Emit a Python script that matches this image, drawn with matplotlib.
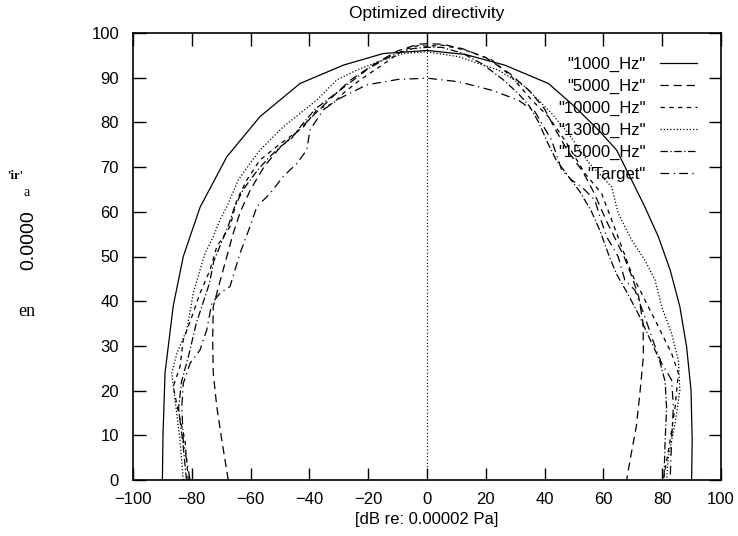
import matplotlib
matplotlib.use("Agg")
import matplotlib.pyplot as plt

plt.rcParams['font.family'] = ['Liberation Sans', 'DejaVu Sans']

# ---- data (x = left/right level, y = forward level) ----
x_1000 = [-90, -89.8, -89.1, -86.3, -82.9, -77.2, -68.1, -56.8, -43.2, -28.5, -14.9, 0,
          13, 26.5, 41.3, 50.3, 58.3, 64.5, 69.6, 74.1, 78.7, 82.7, 86, 88.3, 89.8, 90.2, 90]
y_1000 = [0, 10, 24, 39, 50, 61, 72.3, 81.3, 88.7, 92.8, 95.4, 96.1,
          95.2, 92.8, 88.7, 83.5, 78.3, 73.8, 67.1, 61.1, 54.4, 47, 38.8, 29.8, 20.1, 8.9, 0]

x_5000 = [-67.6, -69.8, -71.5, -72.7, -72.9, -72.7, -71, -68.5, -66, -63.5, -60, -55.5, -50.5,
          -44, -38, -32.5, -26, -18, -10, -3, 0,
          5, 12, 20, 28, 35, 40, 44, 48, 53, 57, 61, 64, 67, 70, 72, 73.5, 73.6, 72.5, 71.2, 69.5, 67.9]
y_5000 = [0, 8.9, 16.4, 23.9, 31.3, 38.8, 43, 49, 55, 60, 65, 70, 74,
          78, 82, 85.5, 89.5, 93, 96, 97.5, 97.6,
          97.5, 96.5, 94.5, 91, 87, 83, 78, 73.5, 69, 64, 58, 54, 50, 45, 41, 35, 27.6, 20, 12, 6, 0]

x_10000 = [-81.2, -82.3, -84.5, -86.3, -84, -82.9, -80, -77.2, -73.8, -71.5, -67, -64.7, -61.3,
           -56.8, -51.1, -46.6, -42, -37.5, -31.9, -28.5, -22.8, -16, -8, -2.4, 0,
           5, 12.9, 22, 28.8, 35.6, 41.3, 46.9, 53.7, 59.4, 62.8, 66.2, 69.6, 74.1, 78.7, 83.2,
           85.5, 84.4, 82.7, 80.4]
y_10000 = [0, 8.9, 15, 20.9, 25.4, 31.3, 36.5, 41.8, 47, 52.2, 56.7, 62.6, 67.1,
           71.6, 74.6, 76.8, 79, 82.8, 84.3, 86.5, 89.5, 92.5, 96.2, 97.3, 97,
           97.3, 96.2, 94, 90.2, 85, 81.3, 76, 68.6, 64.1, 58.2, 52.2, 46.2, 40.3, 34.3, 28.3,
           23.9, 16.4, 8.9, 0]

x_13000 = [-82.9, -84, -85.7, -86.8, -85.1, -81.7, -79.5, -77.2, -75.5, -72.7, -70.4, -68.1,
           -64.2, -60.2, -56.8, -52.3, -48.9, -43.2, -37.5, -30.7, -23.9, -14.9, -8, 0,
           10.7, 24.3, 33.3, 42.4, 48, 55, 62.8, 65, 69.6, 74.1, 77.6, 79.8, 83.2, 85.5, 86,
           84.4, 82.1, 81.5]
y_13000 = [0, 8.9, 17.9, 23.9, 28.3, 33.6, 41.8, 47, 50.7, 54.4, 58.2, 61.1,
           67.1, 70.8, 73.8, 76.8, 79, 82, 85, 89.5, 91.7, 94, 95.4, 95.8,
           94.7, 91.7, 88, 82, 77.6, 71, 65.6, 59.7, 53.7, 49.2, 44.7, 38.8, 32.8, 26.8, 20.1,
           12.7, 5.2, 0]

x_15000 = [-81.8, -83, -84.5, -83.5, -81, -78.5, -76, -74, -72.5, -70, -67.5, -65.5, -62.5,
           -58, -54, -50, -46, -42.5, -38, -33, -27, -20, -12, -5, 0,
           5, 12, 19, 26, 31, 35, 38, 41, 44, 48, 52, 56, 59, 62, 64.5, 68, 72, 75.5, 79, 81,
           81.5, 81, 80.6]
y_15000 = [0, 8, 16, 22, 28, 35, 40, 44, 49, 53, 57, 61, 65,
           69, 72, 74.5, 76.5, 79.5, 83, 85.5, 88.5, 92, 95, 96.5, 96.8,
           96.8, 95.5, 93, 89.5, 86.5, 83.5, 80, 75.5, 71.5, 68, 64.5, 60, 55.5, 50, 46, 42, 37,
           32, 27, 22, 16, 9, 0]

x_target = [-80.6, -82.9, -83.4, -82.9, -80.6, -77.2, -74.9, -73.2, -70.4, -67, -63.6, -60.2,
            -57.9, -53.4, -48.9, -44.3, -40.9, -39.8, -35.3, -29.6, -20.5, -10, 0,
            10.7, 22, 31, 36.7, 42.4, 45.8, 49.2, 52.6, 57.1, 58.8, 61.1, 65, 67.3, 70.7, 74.1,
            77.6, 79.8, 83.2, 83.8, 83.2, 82.7]
y_target = [0, 8.9, 16.4, 21.6, 26.1, 29.1, 33.6, 39.5, 41.8, 43.3, 50.7, 56.7,
            61.1, 64.1, 67.9, 70.8, 73.8, 78.3, 82.8, 85.4, 88.4, 89.6, 89.9,
            89.1, 87.2, 85, 82.4, 76, 69.4, 67.1, 65.6, 62.6, 58.9, 54.4, 50, 44.7, 42.5, 36.5,
            29.8, 26.1, 22.4, 16.4, 8.9, 0]

series_labels = ['"1000_Hz"', '"5000_Hz"', '"10000_Hz"', '"13000_Hz"', '"15000_Hz"', '"Target"']
x_ticks = [-100, -80, -60, -40, -20, 0, 20, 40, 60, 80, 100]
y_ticks = [0, 10, 20, 30, 40, 50, 60, 70, 80, 90, 100]

# ---- figure ----
W, H = 738, 536
fig = plt.figure(figsize=(W / 100, H / 100), dpi=100)
ax = fig.add_axes([133 / W, 56 / H, 588 / W, 447 / H])

styles = [
    dict(linestyle='-'),
    dict(linestyle=(0, (6.5, 4))),
    dict(linestyle=(0, (3.5, 3.5))),
    dict(linestyle=(0, (1, 1.6))),
    dict(linestyle=(0, (6, 2, 1, 2))),
    dict(linestyle=(0, (7, 3.5, 1, 3.5))),
]
data = [(x_1000, y_1000), (x_5000, y_5000), (x_10000, y_10000),
        (x_13000, y_13000), (x_15000, y_15000), (x_target, y_target)]
handles = []
for (xs, ys), st, lab in zip(data, styles, series_labels):
    h, = ax.plot(xs, ys, color='black', lw=0.9, label=lab, **st)
    handles.append(h)

ax.axvline(0, color='black', lw=0.8, linestyle=(0, (1, 2)))

ax.set_xlim(-100, 100)
ax.set_ylim(0, 100)
ax.set_xticks(x_ticks)
ax.set_yticks(y_ticks)
ax.tick_params(direction='in', length=9, width=1.0, top=True, right=True,
               labelsize=12, colors='black')
ax.tick_params(axis='y', pad=10)
ax.tick_params(axis='x', pad=9)
for sp in ax.spines.values():
    sp.set_linewidth(1.2)

ax.set_title('Optimized directivity', fontsize=12.5, pad=11)
ax.set_xlabel('[dB re: 0.00002 Pa]', fontsize=12, labelpad=3)

leg = ax.legend(handles=handles, loc='upper right', markerfirst=False, frameon=False,
                fontsize=12, handlelength=2.2, handletextpad=0.9, labelspacing=0.41,
                borderpad=0, borderaxespad=0,
                bbox_to_anchor=(697 / W, 1 - 57 / H), bbox_transform=fig.transFigure)

# garbled vertical label as it appears
fig.text(15 / W, 1 - 176 / H, "'ir'", fontsize=9, fontweight='bold',
         family='Liberation Serif', ha='center', va='center')
fig.text(27 / W, 1 - 193 / H, "a", fontsize=10, family='Liberation Serif',
         ha='center', va='center')
fig.text(29 / W, 1 - 240 / H, "0.0000", fontsize=14, rotation=90,
         ha='center', va='center')
fig.text(27 / W, 1 - 312 / H, "en", fontsize=13, family='Liberation Serif',
         ha='center', va='center')

fig.savefig('out.png', dpi=100)
